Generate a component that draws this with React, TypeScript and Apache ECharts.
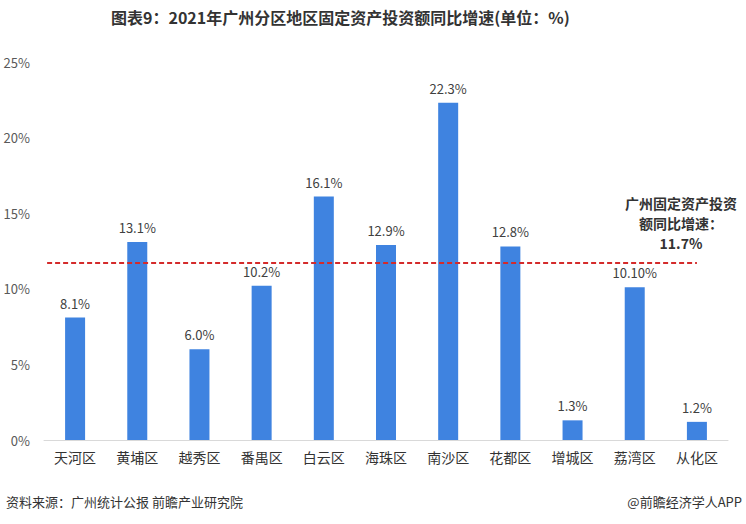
import React, { useEffect, useRef } from "react";
import * as echarts from "echarts";

const categories = ["天河区", "黄埔区", "越秀区", "番禺区", "白云区", "海珠区", "南沙区", "花都区", "增城区", "荔湾区", "从化区"];
const values = [8.1, 13.1, 6.0, 10.2, 16.1, 12.9, 22.3, 12.8, 1.3, 10.1, 1.2];
const valueLabels = ["8.1%", "13.1%", "6.0%", "10.2%", "16.1%", "12.9%", "22.3%", "12.8%", "1.3%", "10.10%", "1.2%"];
const averageValue = 11.7;
const averageLineX = [-0.45, 10];
const yTicks = [0, 5, 10, 15, 20, 25];

export default function App() {
  const ref = useRef<HTMLDivElement>(null);
  useEffect(() => {
    if (!ref.current) return;
    const chart = echarts.init(ref.current, null, { renderer: "svg" });
    const font = "'Microsoft YaHei', 'Noto Sans CJK SC', sans-serif";
    chart.setOption({
      animation: false,
      textStyle: { fontFamily: font },
      title: {
        text: "图表9：2021年广州分区地区固定资产投资额同比增速(单位：%)",
        left: 106,
        top: 4,
        textStyle: { fontSize: 16, fontWeight: "bold", color: "#333", fontFamily: font },
      },
      grid: { left: 44, right: 18, top: 62, bottom: 84, containLabel: false },
      xAxis: [
        {
          type: "category",
          data: categories,
          axisLine: { lineStyle: { color: "#d9d9d9" } },
          axisTick: { show: false },
          axisLabel: { fontSize: 14, color: "#333", margin: 10 },
        },
        {
          type: "value",
          min: -0.5,
          max: 10.5,
          show: false,
        },
      ],
      yAxis: {
        type: "value",
        min: yTicks[0],
        max: yTicks[yTicks.length - 1],
        interval: 5,
        axisLine: { show: false },
        axisTick: { show: false },
        splitLine: { show: false },
        axisLabel: { formatter: "{value}%", fontSize: 13, color: "#595959", margin: 14 },
      },
      series: [
        {
          type: "bar",
          data: values,
          barWidth: 20,
          itemStyle: { color: "#3f83e0" },
          label: {
            show: true,
            position: "top",
            distance: 8,
            fontSize: 13,
            color: "#404040",
            formatter: (p: any) => valueLabels[p.dataIndex],
          },
        },
        {
          type: "line",
          xAxisIndex: 1,
          data: averageLineX.map((x) => [x, averageValue]),
          symbol: "none",
          lineStyle: { color: "#d42b2b", type: [5, 3], width: 2 },
          z: 5,
        },
      ],
      graphic: [
        {
          type: "text",
          x: 681,
          y: 193,
          style: {
            text: "广州固定资产投资\n额同比增速：\n11.7%",
            align: "center",
            verticalAlign: "top",
            fontSize: 14,
            fontWeight: "bold",
            lineHeight: 20,
            fill: "#333",
            fontFamily: font,
          },
        },
        {
          type: "text",
          left: 6,
          top: 495,
          style: { text: "资料来源：广州统计公报 前瞻产业研究院", fontSize: 13, fill: "#333", fontFamily: font },
        },
        {
          type: "text",
          right: 4,
          top: 495,
          style: { text: "@前瞻经济学人APP", fontSize: 13, fill: "#333", fontFamily: font },
        },
      ],
    });
    return () => chart.dispose();
  }, []);
  return <div ref={ref} style={{ width: 746, height: 524, position: "absolute", left: 0, top: 0 }} />;
}
